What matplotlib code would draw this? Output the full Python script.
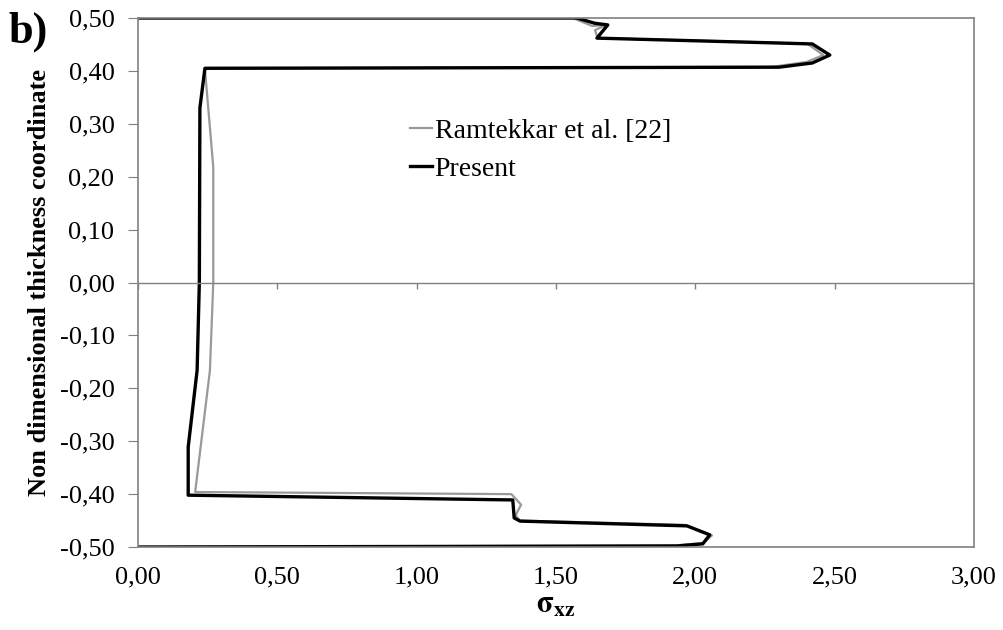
import matplotlib
matplotlib.use('Agg')
import numpy as np
import matplotlib.pyplot as plt

matplotlib.rcParams['font.family'] = 'Liberation Serif'
matplotlib.rcParams['mathtext.fontset'] = 'stix'

# Present (black)
present_x = [0.0, 1.575, 1.64, 1.686, 1.647, 2.42, 2.483, 2.42, 2.30, 0.24,
             0.222, 0.22, 0.212, 0.18, 0.18, 1.345, 1.35, 1.371, 1.97, 2.052,
             2.027, 1.934, 0.0]
present_y = [0.5, 0.5, 0.49, 0.487, 0.462, 0.451, 0.430, 0.415, 0.407, 0.405,
             0.33, 0.0, -0.166, -0.311, -0.402, -0.411, -0.445, -0.451, -0.46,
             -0.477, -0.494, -0.498, -0.5]

# Ramtekkar et al. [22] (grey)
ram_x = [0.0, 1.56, 1.63, 1.68, 1.64, 1.65, 2.40, 2.46, 2.40, 2.28, 0.24,
         0.27, 0.27, 0.258, 0.205, 1.34, 1.375, 1.355, 1.37, 1.96, 2.06,
         2.03, 1.93, 0.0]
ram_y = [0.5, 0.5, 0.485, 0.487, 0.477, 0.462, 0.452, 0.43, 0.417, 0.408,
         0.404, 0.218, 0.0, -0.166, -0.396, -0.40, -0.42, -0.44, -0.45, -0.458,
         -0.478, -0.492, -0.497, -0.5]

xticks = np.arange(0, 3.01, 0.5)
yticks = np.round(np.arange(-0.5, 0.501, 0.1), 2) + 0.0

def comma(v):
    return ('%.2f' % (v + 0.0)).replace('.', ',').replace('-0,00', '0,00')

fig = plt.figure(figsize=(10.04, 6.3), dpi=100)
ax = fig.add_axes([0.1375, 0.1317, 0.8325, 0.8397])

ax.plot(ram_x, ram_y, '-', color='#999999', linewidth=1.6, label='Ramtekkar et al. [22]')
ax.plot(present_x, present_y, '-', color='k', linewidth=2.4, label='Present')

ax.axhline(0.0, color='#808080', linewidth=1.0)
ax.vlines(xticks, -0.012, 0.0, color='#808080', linewidth=1.0)

ax.set_xlim(0, 3.0)
ax.set_ylim(-0.5, 0.5)
ax.set_xticks(xticks)
ax.set_yticks(yticks)
ax.set_xticklabels([comma(v) for v in xticks])
ax.set_yticklabels([comma(v) for v in yticks])
ax.tick_params(axis='x', length=0, pad=14, labelsize=19)
ax.tick_params(axis='y', length=7, color='#808080', direction='out', pad=10, labelsize=19)

for s in ax.spines.values():
    s.set_color('#808080')
    s.set_linewidth(1.2)

ax.set_ylabel('Non dimensional thickness coordinate', fontsize=19, fontweight='bold', labelpad=6)
ax.set_xlabel(r'$\mathbf{\sigma}_{\mathbf{xz}}$', fontsize=22, labelpad=2)

leg = ax.legend(loc='upper left', bbox_to_anchor=(0.295, 0.858), frameon=False,
                fontsize=20, handlelength=0.8, handletextpad=0.1, labelspacing=0.45)

fig.text(0.008, 0.95, 'b)', fontsize=32, fontweight='bold', va='center', ha='left')

plt.savefig('out.png', dpi=100)
